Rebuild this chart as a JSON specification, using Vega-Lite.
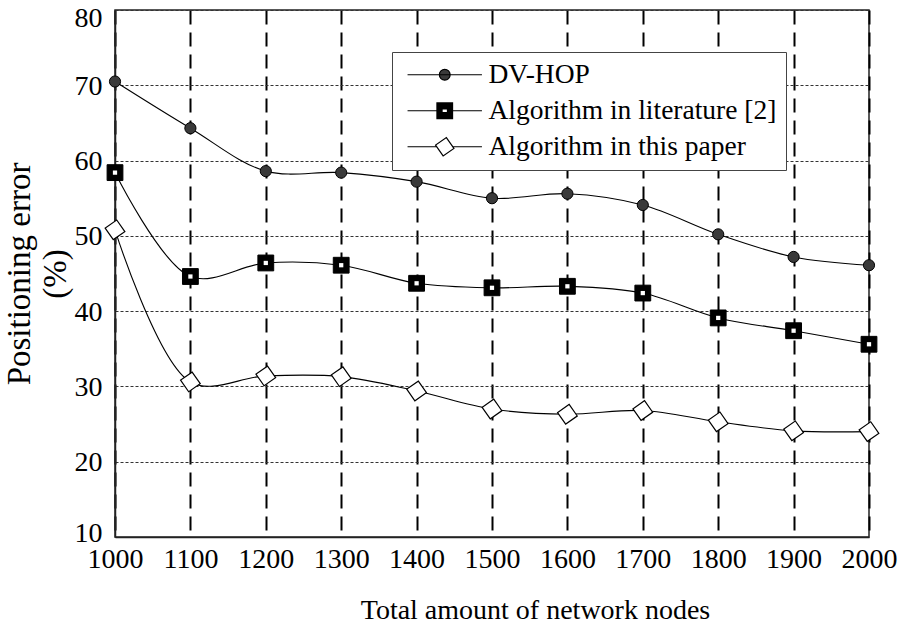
{
  "$schema": "https://vega.github.io/schema/vega-lite/v6.json",
  "width": 754,
  "height": 527,
  "autosize": {"type": "none"},
  "padding": {"left": 115, "top": 10, "right": 32, "bottom": 89},
  "background": "white",
  "config": {
    "font": "Liberation Serif",
    "view": {"stroke": "#222", "strokeWidth": 1.5},
    "axis": {"labelFont": "Liberation Serif", "titleFont": "Liberation Serif", "labelColor": "black", "titleColor": "black", "titleFontWeight": "normal", "ticks": false}
  },
  "datasets": {
    "pts": [
      {"x": 1000, "y": 70.5, "s": "DV-HOP"},
      {"x": 1100, "y": 64.3, "s": "DV-HOP"},
      {"x": 1200, "y": 58.6, "s": "DV-HOP"},
      {"x": 1300, "y": 58.4, "s": "DV-HOP"},
      {"x": 1400, "y": 57.2, "s": "DV-HOP"},
      {"x": 1500, "y": 55.0, "s": "DV-HOP"},
      {"x": 1600, "y": 55.6, "s": "DV-HOP"},
      {"x": 1700, "y": 54.1, "s": "DV-HOP"},
      {"x": 1800, "y": 50.2, "s": "DV-HOP"},
      {"x": 1900, "y": 47.2, "s": "DV-HOP"},
      {"x": 2000, "y": 46.1, "s": "DV-HOP"},
      {"x": 1000, "y": 58.4, "s": "Algorithm in literature [2]"},
      {"x": 1100, "y": 44.6, "s": "Algorithm in literature [2]"},
      {"x": 1200, "y": 46.4, "s": "Algorithm in literature [2]"},
      {"x": 1300, "y": 46.1, "s": "Algorithm in literature [2]"},
      {"x": 1400, "y": 43.7, "s": "Algorithm in literature [2]"},
      {"x": 1500, "y": 43.1, "s": "Algorithm in literature [2]"},
      {"x": 1600, "y": 43.3, "s": "Algorithm in literature [2]"},
      {"x": 1700, "y": 42.4, "s": "Algorithm in literature [2]"},
      {"x": 1800, "y": 39.1, "s": "Algorithm in literature [2]"},
      {"x": 1900, "y": 37.4, "s": "Algorithm in literature [2]"},
      {"x": 2000, "y": 35.6, "s": "Algorithm in literature [2]"},
      {"x": 1000, "y": 50.8, "s": "Algorithm in this paper"},
      {"x": 1100, "y": 30.6, "s": "Algorithm in this paper"},
      {"x": 1200, "y": 31.4, "s": "Algorithm in this paper"},
      {"x": 1300, "y": 31.3, "s": "Algorithm in this paper"},
      {"x": 1400, "y": 29.4, "s": "Algorithm in this paper"},
      {"x": 1500, "y": 27.0, "s": "Algorithm in this paper"},
      {"x": 1600, "y": 26.3, "s": "Algorithm in this paper"},
      {"x": 1700, "y": 26.8, "s": "Algorithm in this paper"},
      {"x": 1800, "y": 25.3, "s": "Algorithm in this paper"},
      {"x": 1900, "y": 24.1, "s": "Algorithm in this paper"},
      {"x": 2000, "y": 24.0, "s": "Algorithm in this paper"}
    ]
  },
  "data": {"name": "pts"},
  "encoding": {
    "x": {"field": "x", "type": "quantitative",
      "scale": {"domain": [1000, 2000], "nice": false, "zero": false},
      "axis": {"values": [1000,1100,1200,1300,1400,1500,1600,1700,1800,1900,2000], "format": "d",
        "title": "Total amount of network nodes", "titleFontSize": 28, "titleX": 420, "titleY": 81, "titleAlign": "center", "titleBaseline": "alphabetic",
        "labelFontSize": 28, "labelPadding": 8, "labelFlush": false,
        "grid": true, "gridColor": "black", "gridWidth": 2, "gridDash": [14, 8],
        "domainColor": "#222", "domainWidth": 1.5}},
    "y": {"field": "y", "type": "quantitative",
      "scale": {"domain": [10, 80], "nice": false, "zero": false},
      "axis": {"values": [10,20,30,40,50,60,70,80],
        "title": ["Positioning error", "(%)"], "titleFontSize": 33, "titlePadding": 2, "titleLineHeight": 36,
        "labelFontSize": 28, "labelPadding": 13,
        "labelOffset": {"condition": [{"test": "datum.value == 80", "value": 8}, {"test": "datum.value == 10", "value": -4}], "value": 1},
        "grid": true, "gridColor": "#333", "gridWidth": 1, "gridDash": [3, 2],
        "domainColor": "#222", "domainWidth": 1.5}}
  },
  "layer": [
    {
      "mark": {"type": "line", "interpolate": "catmull-rom", "color": "black", "strokeWidth": 1.1},
      "encoding": {"detail": {"field": "s"}}
    },
    {
      "transform": [{"filter": "datum.s === 'DV-HOP'"}],
      "mark": {"type": "point", "shape": "circle", "size": 125, "filled": true, "fill": "#3a3a3a", "stroke": "black", "strokeWidth": 1, "opacity": 1}
    },
    {
      "transform": [{"filter": "datum.s === 'Algorithm in literature [2]'"}],
      "mark": {"type": "point", "shape": "square", "size": 250, "filled": true, "fill": "black", "stroke": "black", "strokeWidth": 1, "opacity": 1}
    },
    {
      "transform": [{"filter": "datum.s === 'Algorithm in literature [2]'"}],
      "mark": {"type": "point", "shape": "square", "filled": true, "fill": "white", "size": 18, "opacity": 1}
    },
    {
      "transform": [{"filter": "datum.s === 'Algorithm in this paper'"}],
      "mark": {"type": "point", "shape": "square", "size": 200, "angle": 55, "filled": true, "fill": "white", "stroke": "black", "strokeWidth": 1.2, "opacity": 1}
    },
    {
      "transform": [{"filter": "false"}],
      "mark": {"type": "point", "filled": true, "size": 144, "stroke": "black", "strokeWidth": 1.2, "opacity": 1},
      "encoding": {
        "fill": {"field": "s", "type": "nominal",
          "scale": {"domain": ["DV-HOP", "Algorithm in literature [2]", "Algorithm in this paper"], "range": ["#3a3a3a", "black", "white"]},
          "legend": {"title": null, "orient": "none", "legendX": 277, "legendY": 42,
            "fillColor": "white", "strokeColor": "#444", "padding": 9,
            "labelFont": "Liberation Serif", "labelFontSize": 27.5, "labelColor": "black", "labelLimit": 500,
            "symbolSize": 144, "symbolStrokeColor": "black", "symbolStrokeWidth": 1.2,
            "symbolOffset": 30, "labelOffset": 30, "rowPadding": 7,
            "encoding": {"symbols": {"stroke": {"value": "black"}, "strokeWidth": {"value": 1.2}, "size": {"value": 144}}}}},
        "shape": {"field": "s", "type": "nominal",
          "scale": {"domain": ["DV-HOP", "Algorithm in literature [2]", "Algorithm in this paper"],
            "range": [
              "M-6.2,0H6.2M-0.9,0A0.9,0.9,0,1,1,0.9,0A0.9,0.9,0,1,1,-0.9,0Z",
              "M-6.2,0H-1.3M1.3,0H6.2M-1.3,-1.3H1.3V1.3H-1.3ZM-0.45,-0.3V0.3H0.45V-0.3Z",
              "M-6.2,0H-1.34M1.34,0H6.2M0.27,-1.532L1.532,0.27L-0.27,1.532L-1.532,-0.27Z"
            ]},
          "legend": {"title": null, "orient": "none", "legendX": 277, "legendY": 42,
            "fillColor": "white", "strokeColor": "#444", "padding": 9,
            "labelFont": "Liberation Serif", "labelFontSize": 27.5, "labelColor": "black", "labelLimit": 500,
            "symbolSize": 144, "symbolStrokeColor": "black", "symbolStrokeWidth": 1.2,
            "symbolOffset": 30, "labelOffset": 30, "rowPadding": 7,
            "encoding": {"symbols": {"stroke": {"value": "black"}, "strokeWidth": {"value": 1.2}, "size": {"value": 144}}}}}
      }
    }
  ]
}
